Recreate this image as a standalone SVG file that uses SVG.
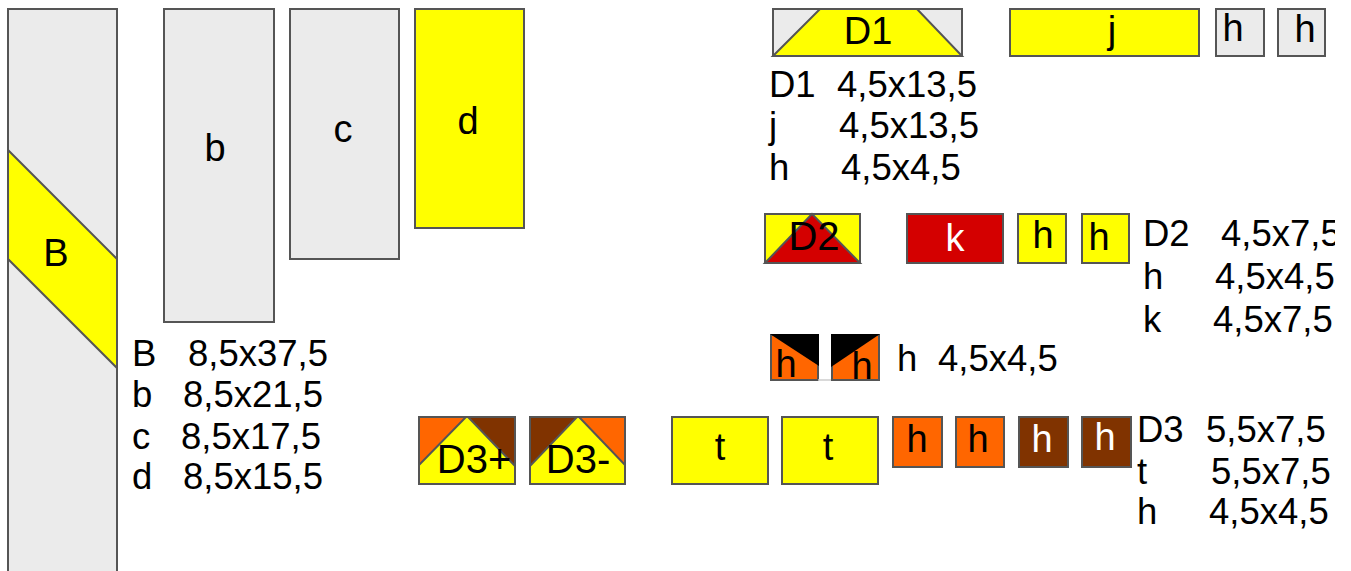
<svg xmlns="http://www.w3.org/2000/svg" width="1351" height="571" viewBox="0 0 1351 571">
<style>
text{font-family:"Liberation Sans",Arial,sans-serif;font-size:38px;fill:#000}
.l text{font-size:36.5px}
.big{font-size:40px}
.m{text-anchor:middle}
.w{fill:#fff}
.s{stroke:#555;stroke-width:2;stroke-linejoin:miter}
.g{fill:#ebebeb}.y{fill:#ffff00}.r{fill:#d40000}.o{fill:#ff6600}.n{fill:#803300}.k{fill:#000}
</style>
<defs><clipPath id="cp"><rect x="1130" y="200" width="205" height="150"/></clipPath></defs>
<rect width="1351" height="571" fill="#fff"/>
<g id="B"><rect class="s g" x="8" y="9" width="109" height="570"/><polygon class="s y" points="8,150 117,259 117,368 8,259"/><text class="m" x="56" y="266">B</text></g>
<g id="b"><rect class="s g" x="164" y="9" width="110" height="313"/><text class="m" x="215" y="161">b</text></g>
<g id="c"><rect class="s g" x="290" y="9" width="109" height="250"/><text class="m" x="343" y="142">c</text></g>
<g id="d"><rect class="s y" x="415" y="9" width="109" height="219"/><text class="m" x="468" y="134">d</text></g>
<g id="D1"><rect class="s g" x="773" y="9" width="189" height="47"/><polygon class="s y" points="773,56 820,9 917,9 962,56"/><text class="m" x="868" y="44">D1</text></g>
<g id="j"><rect class="s y" x="1010" y="9" width="189" height="47"/><text class="m" x="1112" y="43">j</text></g>
<g id="h1"><rect class="s g" x="1216" y="9" width="48" height="47"/><text class="m" x="1233" y="41">h</text></g>
<g id="h2"><rect class="s g" x="1278" y="9" width="47" height="47"/><text class="m" x="1305" y="42">h</text></g>
<g id="D2"><rect class="s y" x="765" y="214" width="95" height="49"/><polygon class="s r" points="765,263 812,214 860,263"/><text class="m big" x="814" y="250">D2</text></g>
<g id="k"><rect class="s r" x="907" y="214" width="96" height="49"/><text class="m w" x="955" y="251">k</text></g>
<g id="h3"><rect class="s y" x="1018" y="214" width="48" height="49"/><text class="m" x="1043" y="248">h</text></g>
<g id="h4"><rect class="s y" x="1082" y="214" width="47" height="49"/><text class="m" x="1099" y="250">h</text></g>
<g id="h5"><rect class="s o" x="771" y="335" width="47" height="45"/><polygon class="k" points="770,334 819,334 819,366"/><text class="m" x="786" y="377">h</text></g>
<line x1="818" y1="380" x2="832" y2="380" stroke="#ccc" stroke-width="1.5"/>
<g id="h6"><rect class="s o" x="832" y="335" width="47" height="45"/><polygon class="k" points="831,334 880,334 831,367"/><text class="m" x="862" y="379">h</text></g>
<g id="D3p"><rect class="s y" x="419" y="417" width="96" height="67"/><polygon class="s o" points="419,417 466,417 419,465"/><polygon class="s n" points="468,417 515,417 515,466"/><text class="m big" x="474" y="473">D3+</text></g>
<g id="D3m"><rect class="s y" x="530" y="417" width="95" height="67"/><polygon class="s n" points="530,417 577,417 530,466"/><polygon class="s o" points="579,417 625,417 625,465"/><text class="m big" x="578" y="473">D3-</text></g>
<g id="t1"><rect class="s y" x="672" y="417" width="96" height="67"/><text class="m" x="720" y="460">t</text></g>
<g id="t2"><rect class="s y" x="782" y="417" width="96" height="67"/><text class="m" x="828" y="460">t</text></g>
<g id="h7"><rect class="s o" x="893" y="417" width="49" height="50"/><text class="m" x="917" y="452">h</text></g>
<g id="h8"><rect class="s o" x="956" y="417" width="48" height="50"/><text class="m" x="978" y="452">h</text></g>
<g id="h9"><rect class="s n" x="1019" y="417" width="49" height="50"/><text class="m w" x="1042" y="452">h</text></g>
<g id="h10"><rect class="s n" x="1082" y="417" width="49" height="50"/><text class="m w" x="1105" y="450">h</text></g>
<g id="legend-left" class="l">
<text x="132" y="366">B <tspan x="188">8,5x37,5</tspan></text>
<text x="132" y="407">b <tspan x="183">8,5x21,5</tspan></text>
<text x="132" y="449">c <tspan x="181">8,5x17,5</tspan></text>
<text x="132" y="489">d <tspan x="183">8,5x15,5</tspan></text>
</g>
<g id="legend-d1" class="l">
<text x="769" y="97">D1 <tspan x="837">4,5x13,5</tspan></text>
<text x="769" y="138">j <tspan x="839">4,5x13,5</tspan></text>
<text x="769" y="180">h <tspan x="841">4,5x4,5</tspan></text>
</g>
<g id="legend-d2" class="l" clip-path="url(#cp)">
<text x="1143" y="246">D2 <tspan x="1221">4,5x7,5</tspan></text>
<text x="1143" y="289">h <tspan x="1215">4,5x4,5</tspan></text>
<text x="1143" y="332">k <tspan x="1213">4,5x7,5</tspan></text>
</g>
<g id="legend-h" class="l"><text x="897" y="371">h <tspan x="938">4,5x4,5</tspan></text></g>
<g id="legend-d3" class="l">
<text x="1137" y="442">D3 <tspan x="1206">5,5x7,5</tspan></text>
<text x="1137" y="484">t <tspan x="1211">5,5x7,5</tspan></text>
<text x="1137" y="524">h <tspan x="1209">4,5x4,5</tspan></text>
</g>
</svg>
